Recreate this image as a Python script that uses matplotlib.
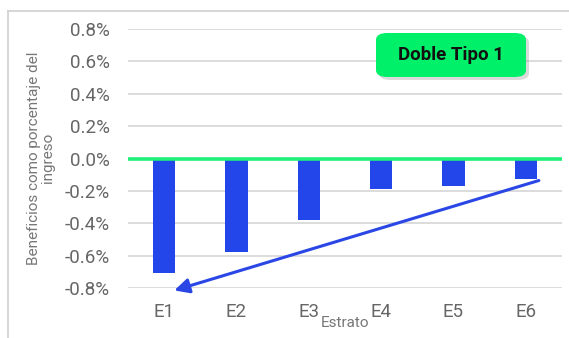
import matplotlib
matplotlib.use("Agg")
import matplotlib.pyplot as plt
from matplotlib.patches import FancyBboxPatch
from matplotlib.lines import Line2D
from matplotlib.ticker import FuncFormatter

# Benefits as a share of income by stratum (percent)
estratos = ["E1", "E2", "E3", "E4", "E5", "E6"]
beneficios = [-0.71, -0.58, -0.38, -0.19, -0.17, -0.125]
y_ticks = [-0.8, -0.6, -0.4, -0.2, 0.0, 0.2, 0.4, 0.6, 0.8]
titulo = "Doble Tipo 1"

plt.rcParams["font.family"] = ["Roboto", "DejaVu Sans"]

W, H = 569, 338
fig = plt.figure(figsize=(W / 100, H / 100), dpi=100)
ax = fig.add_axes([128 / W, 50 / H, (562 - 128) / W, (288 - 29) / H])

bar_color = "#2346ea"
x = list(range(len(estratos)))
ax.bar(x, beneficios, width=0.31, color=bar_color, zorder=3)

ax.set_xlim(-0.5, len(estratos) - 0.5)
ax.set_ylim(-0.8, 0.8)
ax.set_yticks(y_ticks)
ax.yaxis.set_major_formatter(FuncFormatter(lambda v, _: f"{v:.1f}%"))
ax.set_xticks(x)
ax.set_xticklabels(estratos)

for v in y_ticks:
    if v == 0:
        continue
    ax.axhline(v, color="#dcdcdc", lw=1.4, zorder=1)
ax.axhline(0, color="#1ff07a", lw=2.6, zorder=4)

for s in ax.spines.values():
    s.set_visible(False)
ax.tick_params(axis="both", length=0, colors="#666666", labelsize=13.5)
ax.tick_params(axis="y", pad=13)
ax.tick_params(axis="x", pad=11)

ax.set_xlabel("Estrato", fontsize=11, color="#777777", labelpad=-4)
fig.text(41 / W, 1 - 158 / H, "Beneficios como porcentaje del\ningreso",
         rotation=90, ha="center", va="center", fontsize=11,
         color="#777777", linespacing=1.05)

# Trend arrow from E6 back to E1
ax.annotate("", xy=(0.14, -0.815), xytext=(5.18, -0.136),
            arrowprops=dict(arrowstyle="-|>", color="#2a47e6", lw=2.2,
                            mutation_scale=22, shrinkA=0, shrinkB=0),
            annotation_clip=False, zorder=5)

# Label box with soft shadow
bx, by, bw, bh = 376, 33, 150, 44
shadow = FancyBboxPatch(((bx + 3) / W, 1 - (by + bh + 3) / H), bw / W, bh / H,
                        boxstyle="round,pad=0,rounding_size=0.02",
                        transform=fig.transFigure, facecolor="#999999",
                        alpha=0.35, edgecolor="none", zorder=9)
box = FancyBboxPatch((bx / W, 1 - (by + bh) / H), bw / W, bh / H,
                     boxstyle="round,pad=0,rounding_size=0.02",
                     transform=fig.transFigure, facecolor="#00f06a",
                     edgecolor="none", zorder=10)
fig.patches.extend([shadow, box])
fig.text((bx + bw / 2) / W, 1 - (by + bh / 2) / H, titulo, ha="center",
         va="center", fontsize=13.5, fontweight="bold", color="#111111",
         zorder=11)

# Outer frame lines
fig.add_artist(Line2D([8 / W, 8 / W], [0, 1 - 11 / H], color="#cfcfcf",
                      lw=1.2, transform=fig.transFigure))
fig.add_artist(Line2D([8 / W, 1], [1 - 11 / H, 1 - 11 / H], color="#cfcfcf",
                      lw=1.2, transform=fig.transFigure))

fig.savefig("out.png", dpi=100)
